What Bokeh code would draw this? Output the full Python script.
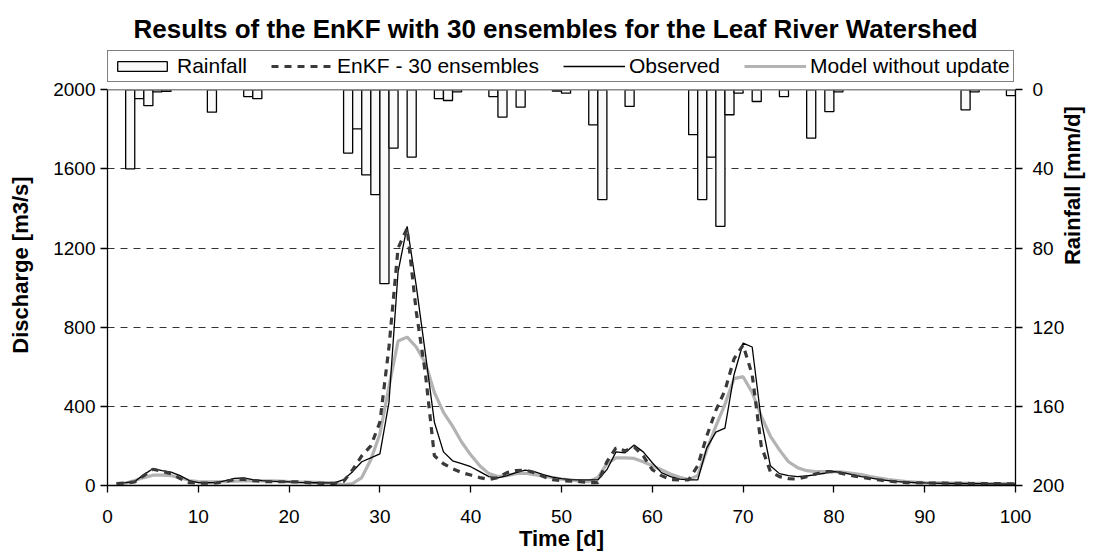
import math
from bokeh.plotting import figure
from bokeh.models import (Range1d, LinearAxis, FixedTicker, Legend, LegendItem,
                          ColumnDataSource, Span)
from bokeh.embed import file_html
from bokeh.resources import INLINE

# ---------------- data ----------------
days = list(range(1, 101))

observed = [12, 15, 20, 55, 85, 75, 68, 50, 25, 15,
            14, 15, 25, 36, 38, 30, 25, 22, 20, 18,
            16, 15, 14, 13, 13, 30, 70, 120, 140, 160,
            420, 1080, 1310, 1010, 670, 320, 170, 125, 110, 95,
            70, 45, 38, 50, 65, 78, 70, 55, 42, 35,
            30, 28, 28, 28, 80, 170, 165, 205, 170, 115,
            65, 45, 32, 28, 28, 190, 270, 290, 560, 720,
            700, 330, 100, 60, 50, 45, 48, 55, 62, 70,
            65, 55, 45, 38, 30, 25, 20, 17, 15, 13,
            12, 11, 10, 10, 9, 9, 8, 8, 7, 7]

enkf = [10, 12, 18, 50, 82, 72, 60, 35, 14, 12,
        12, 13, 20, 30, 32, 25, 20, 19, 19, 19,
        18, 15, 12, 11, 11, 20, 80, 150, 200, 320,
        700, 1200, 1300, 880, 570, 150, 110, 85, 65, 53,
        40, 30, 40, 65, 75, 78, 65, 45, 30, 25,
        22, 20, 15, 15, 120, 190, 175, 195, 150, 80,
        50, 30, 28, 28, 100, 250, 380, 480, 640, 710,
        560, 200, 70, 45, 35, 32, 45, 58, 70, 70,
        60, 50, 42, 35, 28, 22, 18, 15, 14, 13,
        12, 12, 11, 11, 10, 10, 10, 9, 9, 8]

model = [8, 12, 25, 40, 52, 52, 50, 40, 25, 20,
         19, 19, 20, 22, 23, 23, 23, 23, 22, 20,
         18, 17, 16, 15, 12, 3, 10, 40, 130, 260,
         500, 730, 750, 700, 620, 470, 370, 300, 220, 155,
         100, 60, 45, 50, 60, 62, 55, 48, 40, 32,
         28, 22, 20, 40, 110, 140, 140, 137, 120, 100,
         80, 58, 42, 30, 50, 180, 300, 410, 540, 550,
         470, 350, 250, 180, 120, 90, 75, 70, 70, 70,
         68, 62, 55, 45, 38, 30, 25, 20, 17, 15,
         14, 13, 12, 12, 11, 11, 10, 10, 9, 9]

rain_days = [2, 3, 4, 5, 6, 11, 15, 16, 26, 27, 28, 29, 30, 31, 33, 36, 37, 38,
             42, 43, 45, 49, 50, 53, 54, 57, 64, 65, 66, 67, 68, 69, 71, 74,
             77, 79, 80, 94, 95, 99]
rain_mm = [40, 4.5, 8, 1, 0.8, 11.3, 3.4, 4.5, 32, 19.7, 43, 53, 98, 29.5, 34,
           4.5, 5.4, 1, 3.4, 13.8, 8.8, 0.7, 1.7, 17.7, 55.5, 8.4, 22.7, 55.5,
           34, 69, 12.6, 1.7, 5.9, 3.4, 24.4, 11, 1, 10.1, 1, 2.9]

q_ticks = [0, 400, 800, 1200, 1600, 2000]
rain_ticks = [0, 40, 80, 120, 160, 200]
x_ticks = list(range(0, 101, 10))

Q_MAX = 2000          # discharge axis maximum
RAIN_MAX = 200        # rainfall axis maximum (inverted)
HEADROOM = 1.1145     # extra space above the axes where the legend sits
Q_TOP = Q_MAX * HEADROOM
RAIN_TOP = RAIN_MAX - Q_TOP * RAIN_MAX / Q_MAX

FONT = "Liberation Sans"

p = figure(width=1100, height=556,
           min_border_left=107, min_border_right=85,
           min_border_top=44, min_border_bottom=71,
           x_range=Range1d(0, 100), y_range=Range1d(0, Q_TOP),
           output_backend="svg", toolbar_location=None,
           title="Results of the EnKF with 30 ensembles for the Leaf River Watershed")

p.extra_y_ranges = {"rain": Range1d(RAIN_MAX, RAIN_TOP)}

p.background_fill_color = "white"
p.border_fill_color = "white"
p.outline_line_color = None

p.title.text_font = FONT
p.title.text_font_size = "26px"
p.title.text_font_style = "bold"
p.title.align = "left"
p.title.text_color = "black"
p.title.standoff = 2
p.title.offset = 26

# grid
p.xgrid.visible = False
p.ygrid.ticker = FixedTicker(ticks=q_ticks[1:-1])
p.ygrid.grid_line_color = "#333333"
p.ygrid.grid_line_dash = "7 6"
p.ygrid.grid_line_width = 1

# grey top border of the plotting area
p.add_layout(Span(location=Q_MAX, dimension="width", line_color="#8c8c8c",
                  line_width=1.5))

def style_axis(ax):
    ax.axis_line_color = "black"
    ax.axis_line_width = 1.3
    ax.major_tick_line_color = "black"
    ax.major_tick_line_width = 1.3
    ax.major_tick_in = 0
    ax.major_tick_out = 7
    ax.minor_tick_line_color = None
    ax.major_label_text_font = FONT
    ax.major_label_text_font_size = "19px"
    ax.major_label_text_color = "black"
    ax.axis_label_text_font = FONT
    ax.axis_label_text_font_size = "22px"
    ax.axis_label_text_font_style = "bold"
    ax.axis_label_text_color = "black"

xa = p.xaxis[0]
xa.ticker = FixedTicker(ticks=x_ticks)
xa.axis_label = "Time [d]"
style_axis(xa)
xa.major_label_standoff = 17
xa.axis_label_standoff = 0

ya = p.yaxis[0]
ya.ticker = FixedTicker(ticks=q_ticks)
ya.bounds = (0, Q_MAX)
ya.axis_label = "Discharge [m3/s]"
style_axis(ya)
ya.major_label_standoff = 5
ya.axis_label_standoff = 17

ra = LinearAxis(y_range_name="rain", ticker=FixedTicker(ticks=rain_ticks),
                axis_label="Rainfall [mm/d]", bounds=(0, RAIN_MAX))
style_axis(ra)
ra.major_label_standoff = 10
ra.axis_label_standoff = 5
ra.axis_label_orientation = math.pi / 2
p.add_layout(ra, "right")

# rainfall bars (hanging from the top, inverted secondary axis)
bar_src = ColumnDataSource(dict(x=[d + 0.5 for d in rain_days],
                                top=[0] * len(rain_mm), bottom=rain_mm))
bars = p.vbar(x="x", top="top", bottom="bottom", width=1.0, source=bar_src,
              y_range_name="rain", fill_color="#fafafa",
              line_color="black", line_width=1.3)

r_model = p.line(days, model, line_color="#b3b3b3", line_width=3.2)
r_obs = p.line(days, observed, line_color="black", line_width=1.3)
r_enkf = p.line(days, enkf, line_color="#3a3a3a", line_width=3.2,
                line_dash="7 6")

legend = Legend(items=[
    LegendItem(label="Rainfall", renderers=[bars]),
    LegendItem(label="EnKF - 30 ensembles", renderers=[r_enkf]),
    LegendItem(label="Observed", renderers=[r_obs]),
    LegendItem(label="Model without update", renderers=[r_model]),
], orientation="horizontal")
legend.location = (0, 403)
legend.margin = 0
legend.padding = 3
legend.spacing = 24
legend.glyph_width = 62
legend.glyph_height = 12
legend.label_standoff = 4
legend.label_height = 20
legend.label_text_font = FONT
legend.label_text_font_size = "21px"
legend.label_text_color = "black"
legend.border_line_color = "black"
legend.border_line_width = 1
legend.background_fill_color = "white"
legend.background_fill_alpha = 1
p.add_layout(legend)

open("out.html", "w").write(file_html(p, INLINE))
